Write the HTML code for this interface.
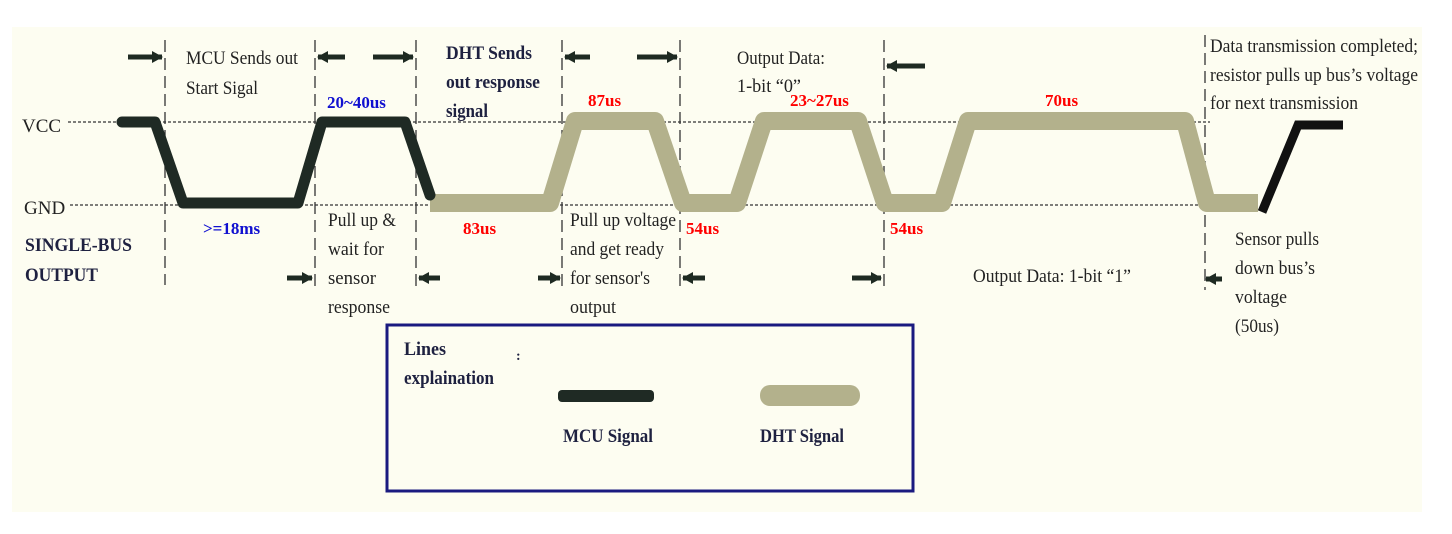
<!DOCTYPE html>
<html><head><style>
html,body{margin:0;padding:0;background:#fff;}
svg{display:block;}
text{font-family:"Liberation Serif",serif;}
</style></head><body>
<svg width="1452" height="534" viewBox="0 0 1452 534" xmlns="http://www.w3.org/2000/svg">
<defs>
<marker id="ah" markerWidth="12" markerHeight="12" refX="10" refY="6" orient="auto" markerUnits="userSpaceOnUse"><path d="M0,0 L11,6 L0,12 Z" fill="#1e2a22"/></marker>
</defs>
<rect x="12" y="27" width="1410" height="485" fill="#fdfdf1"/>
<line x1="68" y1="122" x2="1210" y2="122" stroke="#333" stroke-width="1.3" stroke-dasharray="3,2"/>
<line x1="70" y1="205" x2="1230" y2="205" stroke="#333" stroke-width="1.3" stroke-dasharray="3,2"/>
<g stroke="#333" stroke-width="1.3" stroke-dasharray="12,6">
<line x1="165" y1="40" x2="165" y2="285"/>
<line x1="315" y1="40" x2="315" y2="290"/>
<line x1="416" y1="40" x2="416" y2="290"/>
<line x1="562" y1="40" x2="562" y2="290"/>
<line x1="680" y1="40" x2="680" y2="290"/>
<line x1="884" y1="40" x2="884" y2="290"/>
<line x1="1205" y1="35" x2="1205" y2="290"/>
</g>
<polyline points="430,203 550,203 575,121 655,121 683,203 737,203 764,121 858,121 885,203 942,203 968,121 1185,121 1207,203 1258,203" fill="none" stroke="#b3b18c" stroke-width="18" stroke-linejoin="round"/>
<polyline points="122,122 155,122 183,203 298,203 322,122 405,122 430,195" fill="none" stroke="#1f2a24" stroke-width="11" stroke-linejoin="round" stroke-linecap="round"/>
<polyline points="1262,212 1298,125 1343,125" fill="none" stroke="#111" stroke-width="9"/>
<g stroke="#1e2a22" stroke-width="5" marker-end="url(#ah)">
<line x1="128" y1="57" x2="162" y2="57"/>
<line x1="345" y1="57" x2="318" y2="57"/>
<line x1="373" y1="57" x2="413" y2="57"/>
<line x1="590" y1="57" x2="565" y2="57"/>
<line x1="637" y1="57" x2="677" y2="57"/>
<line x1="925" y1="66" x2="887" y2="66"/>
<line x1="287" y1="278" x2="312" y2="278"/>
<line x1="440" y1="278" x2="419" y2="278"/>
<line x1="538" y1="278" x2="560" y2="278"/>
<line x1="705" y1="278" x2="683" y2="278"/>
<line x1="852" y1="278" x2="881" y2="278"/>
<line x1="1222" y1="279" x2="1206" y2="279"/>
</g>
<g fill="#222" font-size="19">
<text x="22" y="132">VCC</text>
<text x="24" y="214">GND</text>
<text x="186" y="64" textLength="112" lengthAdjust="spacingAndGlyphs">MCU Sends out</text>
<text x="186" y="94" textLength="72" lengthAdjust="spacingAndGlyphs">Start Sigal</text>
<text x="328" y="226" textLength="68" lengthAdjust="spacingAndGlyphs">Pull up &amp;</text>
<text x="328" y="255" textLength="56" lengthAdjust="spacingAndGlyphs">wait for</text>
<text x="328" y="284" textLength="48" lengthAdjust="spacingAndGlyphs">sensor</text>
<text x="328" y="313" textLength="62" lengthAdjust="spacingAndGlyphs">response</text>
<text x="570" y="226" textLength="106" lengthAdjust="spacingAndGlyphs">Pull up voltage</text>
<text x="570" y="255" textLength="94" lengthAdjust="spacingAndGlyphs">and get ready</text>
<text x="570" y="284" textLength="80" lengthAdjust="spacingAndGlyphs">for sensor's</text>
<text x="570" y="313" textLength="46" lengthAdjust="spacingAndGlyphs">output</text>
<text x="737" y="64" textLength="88" lengthAdjust="spacingAndGlyphs">Output Data:</text>
<text x="737" y="92" textLength="64" lengthAdjust="spacingAndGlyphs">1-bit “0”</text>
<text x="973" y="282" textLength="158" lengthAdjust="spacingAndGlyphs">Output Data: 1-bit “1”</text>
<text x="1210" y="52" textLength="208" lengthAdjust="spacingAndGlyphs">Data transmission completed;</text>
<text x="1210" y="81" textLength="208" lengthAdjust="spacingAndGlyphs">resistor pulls up bus’s voltage</text>
<text x="1210" y="109" textLength="148" lengthAdjust="spacingAndGlyphs">for next transmission</text>
<text x="1235" y="245" textLength="84" lengthAdjust="spacingAndGlyphs">Sensor pulls</text>
<text x="1235" y="274" textLength="80" lengthAdjust="spacingAndGlyphs">down bus’s</text>
<text x="1235" y="303" textLength="52" lengthAdjust="spacingAndGlyphs">voltage</text>
<text x="1235" y="332" textLength="44" lengthAdjust="spacingAndGlyphs">(50us)</text>
</g>
<g fill="#1e2140" font-size="19" font-weight="bold">
<text x="25" y="251" textLength="107" lengthAdjust="spacingAndGlyphs">SINGLE-BUS</text>
<text x="25" y="281" textLength="73" lengthAdjust="spacingAndGlyphs">OUTPUT</text>
<text x="446" y="59" textLength="86" lengthAdjust="spacingAndGlyphs">DHT Sends</text>
<text x="446" y="88" textLength="94" lengthAdjust="spacingAndGlyphs">out response</text>
<text x="446" y="117" textLength="42" lengthAdjust="spacingAndGlyphs">signal</text>
</g>
<g font-size="17" font-weight="bold">
<text x="327" y="108" fill="#1010d0">20~40us</text>
<text x="203" y="234" fill="#1010d0">&gt;=18ms</text>
<text x="463" y="234" fill="#ff0000">83us</text>
<text x="588" y="106" fill="#ff0000">87us</text>
<text x="686" y="234" fill="#ff0000">54us</text>
<text x="790" y="106" fill="#ff0000">23~27us</text>
<text x="890" y="234" fill="#ff0000">54us</text>
<text x="1045" y="106" fill="#ff0000">70us</text>
</g>
<rect x="387" y="325" width="526" height="166" fill="#fdfdf1" stroke="#1a1a80" stroke-width="3"/>
<g fill="#1e2140" font-size="19" font-weight="bold">
<text x="404" y="355" textLength="42" lengthAdjust="spacingAndGlyphs">Lines</text>
<text x="404" y="384" textLength="90" lengthAdjust="spacingAndGlyphs">explaination</text>
<text x="516" y="360" font-size="14">:</text>
<text x="563" y="442" textLength="90" lengthAdjust="spacingAndGlyphs">MCU Signal</text>
<text x="760" y="442" textLength="84" lengthAdjust="spacingAndGlyphs">DHT Signal</text>
</g>
<rect x="558" y="390" width="96" height="12" rx="4" fill="#1f2a24"/>
<rect x="760" y="385" width="100" height="21" rx="10" fill="#b3b18c"/>
</svg>
</body></html>
